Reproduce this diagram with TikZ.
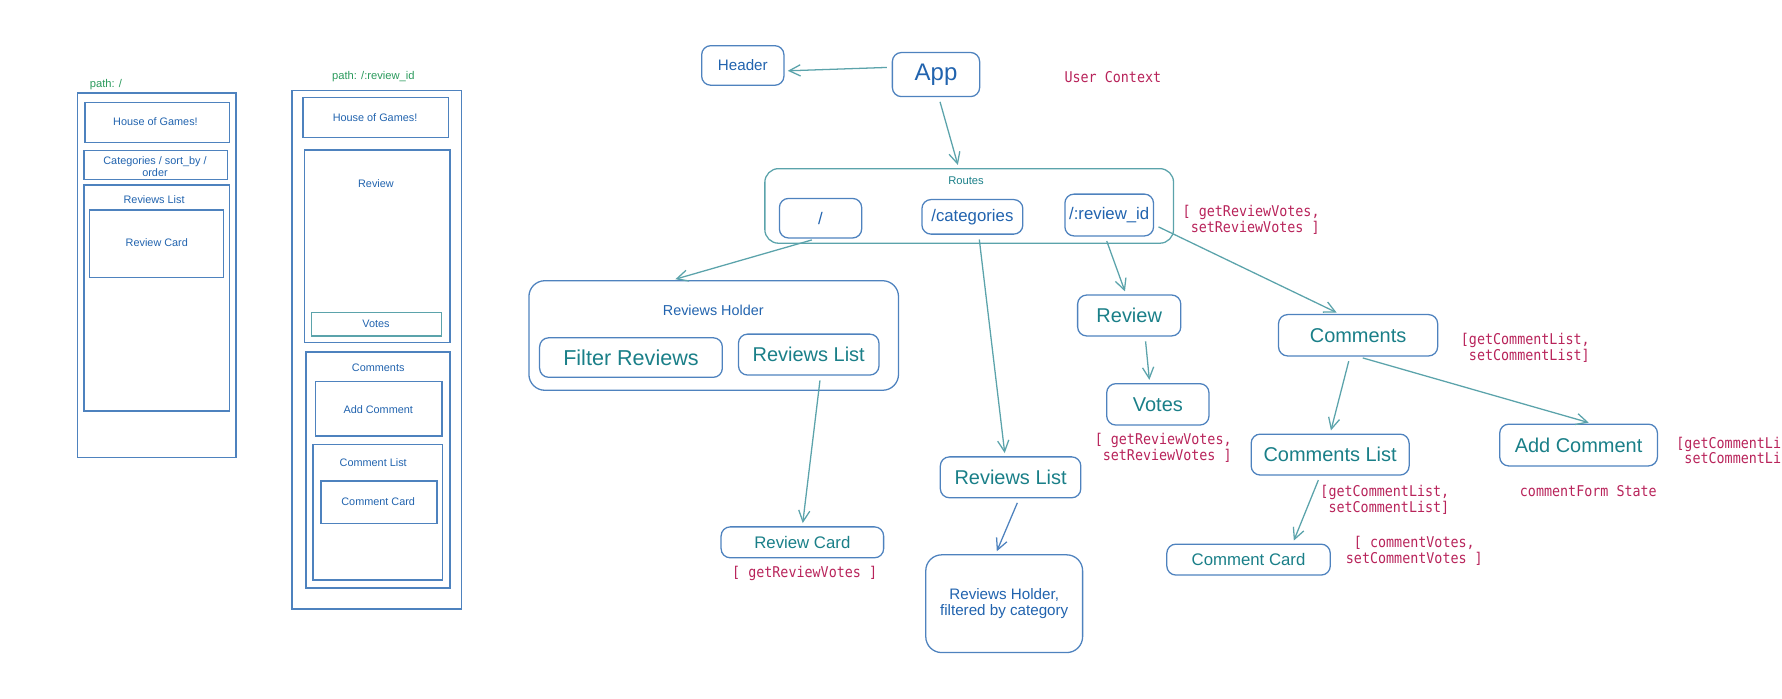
\documentclass[tikz,border=0pt]{standalone}
\usepackage{fontspec}
\setmainfont{Liberation Sans}
\newfontfamily\codefont[FakeStretch=0.9]{DejaVu Sans Mono}
\usetikzlibrary{arrows.meta}

\definecolor{boxblue}{HTML}{4E82BE}
\definecolor{txtblue}{HTML}{2163AE}
\definecolor{txtteal}{HTML}{1A7F88}
\definecolor{lineteal}{HTML}{5BA3AB}
\definecolor{codered}{HTML}{B8235A}
\definecolor{pathgreen}{HTML}{2A9A5C}

\begin{document}
\begin{tikzpicture}[
    box/.style={draw=boxblue, line width=0.8pt, rounded corners=0.2cm, inner sep=0pt},
    wire/.style={draw=boxblue, line width=0.9pt},
    arr/.style={draw=lineteal, line width=0.8pt, -{Straight Barb[length=7pt,width=7pt]}, shorten <=3pt, shorten >=2pt},
    big/.style={font=\fontsize{12.5}{14}\selectfont, text=txtteal},
    mid/.style={font=\fontsize{10.5}{12}\selectfont},
    small/.style={font=\fontsize{6.8}{7.8}\selectfont, text=txtblue},
    pathlbl/.style={anchor=west, inner sep=0pt, font=\fontsize{7}{8}\selectfont, text=pathgreen},
    code/.style={font=\codefont\fontsize{9.3}{9.8}\selectfont, text=codered, align=left, inner sep=0pt}
]
    \useasboundingbox (0,0) rectangle (39.2,-15.355);
    \clip (0,0) rectangle (39.2,-15.355);

    \node[pathlbl] (pathroot) at (1.97,-1.86) {path: /};
    \draw[wire] (1.70,-2.05) rectangle (5.19,-10.06);
    \draw[wire] (1.87,-2.25) rectangle (5.05,-3.14);
    \node[small] (hogroot) at (3.42,-2.68) {House of Games!};
    \draw[wire] (1.85,-3.31) rectangle (5.0,-3.95);
    \node[small, align=center] (sortroot) at (3.41,-3.66) {Categories / sort\_by /\\order};
    \draw[wire] (1.85,-4.07) rectangle (5.05,-9.04);
    \node[small] (listroot) at (3.39,-4.40) {Reviews List};
    \draw[wire] (1.97,-4.62) rectangle (4.92,-6.11);
    \node[small] (cardroot) at (3.45,-5.34) {Review Card};

    \node[pathlbl] (pathid) at (7.30,-1.69) {path: /:review\_id};
    \draw[wire] (6.42,-1.99) rectangle (10.15,-13.40);
    \draw[wire] (6.67,-2.15) rectangle (9.86,-3.03);
    \node[small] (hogid) at (8.25,-2.58) {House of Games!};
    \draw[wire] (6.70,-3.30) rectangle (9.90,-7.54);
    \node[small] (reviewid) at (8.27,-4.03) {Review};
    \draw[wire, draw=lineteal] (6.85,-6.88) rectangle (9.71,-7.39);
    \node[small] (votesid) at (8.27,-7.13) {Votes};
    \draw[wire] (6.73,-7.74) rectangle (9.90,-12.93);
    \node[small] (commentsid) at (8.32,-8.09) {Comments};
    \draw[wire] (6.94,-8.39) rectangle (9.72,-9.59);
    \node[small] (addid) at (8.32,-9.0) {Add Comment};
    \draw[wire] (6.89,-9.78) rectangle (9.74,-12.76);
    \node[small] (commlistid) at (8.21,-10.18) {Comment List};
    \draw[wire] (7.06,-10.58) rectangle (9.61,-11.52);
    \node[small] (commcardid) at (8.32,-11.04) {Comment Card};

    \node[box, minimum width=1.81cm, minimum height=0.87cm, text=txtblue, font=\fontsize{9.5}{11}\selectfont] (header) at (16.34,-1.44) {Header};
    \node[box, minimum width=1.92cm, minimum height=0.97cm, text=txtblue, font=\fontsize{15}{17}\selectfont] (app) at (20.59,-1.64) {App};
    \node[code] (usercontext) at (24.48,-1.69) {User Context};

    \node[box, draw=lineteal, rounded corners=0.3cm, minimum width=8.99cm, minimum height=1.64cm] (routes) at (21.32,-4.53) {};
    \node[font=\fontsize{7}{8}\selectfont, text=txtteal] (routestitle) at (21.25,-3.98) {Routes};
    \node[box, minimum width=1.81cm, minimum height=0.87cm, mid, text=txtblue] (root) at (18.05,-4.80) {/};
    \node[box, minimum width=2.22cm, minimum height=0.76cm, mid, text=txtblue] (categories) at (21.39,-4.77) {/categories};
    \node[box, minimum width=1.95cm, minimum height=0.92cm, mid, text=txtblue] (review_id) at (24.40,-4.73) {/:review\_id};
    \node[code, anchor=west] (idstate) at (26.01,-4.84) {[ getReviewVotes,\\~setReviewVotes ]};

    \node[box, rounded corners=0.35cm, minimum width=8.13cm, minimum height=2.41cm] (holder) at (15.70,-7.38) {};
    \node[text=txtblue, font=\fontsize{9}{10}\selectfont] (holdertitle) at (15.69,-6.835) {Reviews Holder};
    \node[box, minimum width=4.02cm, minimum height=0.87cm, big, font=\fontsize{13.5}{15}\selectfont] (filter) at (13.88,-7.865) {Filter Reviews};
    \node[box, minimum width=3.09cm, minimum height=0.90cm, big] (reviewslist) at (17.79,-7.80) {Reviews List};
    \node[box, minimum width=3.575cm, minimum height=0.68cm, mid, text=txtteal] (reviewcard) at (17.65,-11.93) {Review Card};
    \node[code] (cardstate) at (17.70,-12.625) {[ getReviewVotes ]};

    \node[box, minimum width=3.09cm, minimum height=0.90cm, big] (catlist) at (22.23,-10.50) {Reviews List};
    \node[box, rounded corners=0.35cm, minimum width=3.45cm, minimum height=2.15cm, text=txtblue, align=center, font=\fontsize{9.5}{10}\selectfont] (filtered) at (22.09,-13.28) {Reviews Holder,\\filtered by category};

    \node[box, minimum width=2.27cm, minimum height=0.90cm, big] (review) at (24.84,-6.94) {Review};
    \node[box, minimum width=2.25cm, minimum height=0.91cm, big] (votes) at (25.47,-8.895) {Votes};
    \node[code, anchor=west] (votesstate) at (24.075,-9.85) {[ getReviewVotes,\\~setReviewVotes ]};

    \node[box, minimum width=3.50cm, minimum height=0.91cm, big] (comments) at (29.875,-7.375) {Comments};
    \node[code, anchor=west] (commentsstate) at (32.13,-7.65) {[getCommentList,\\~setCommentList]};
    \node[box, minimum width=3.475cm, minimum height=0.90cm, big] (commentslist) at (29.26,-10.0) {Comments List};
    \node[code, anchor=west] (liststate) at (29.04,-11.0) {[getCommentList,\\~setCommentList]};
    \node[box, minimum width=3.47cm, minimum height=0.92cm, big] (addcomment) at (34.725,-9.79) {Add Comment};
    \node[code, anchor=west] (addstate) at (36.87,-9.925) {[getCommentList,\\~setCommentList]};
    \node[code] (formstate) at (34.94,-10.8) {commentForm State};
    \node[box, minimum width=3.595cm, minimum height=0.68cm, mid, text=txtteal] (commentcard) at (27.465,-12.31) {Comment Card};
    \node[code, anchor=west] (cardvotes) at (29.60,-12.12) {~[ commentVotes,\\setCommentVotes ]};

    \draw[arr] ([yshift=0.16cm]app.west) -- ([yshift=-0.12cm]header.east);
    \draw[arr] ([xshift=0.06cm]app.south) -- ([xshift=-0.23cm]routes.north);
    \draw[arr] ([xshift=-0.09cm]root.south) -- ([xshift=-0.91cm]holder.north);
    \draw[arr] ([xshift=0.26cm]reviewslist.south) -- (reviewcard.north);
    \draw[arr] ([xshift=0.14cm]categories.south) -- ([xshift=-0.12cm]catlist.north);
    \draw[arr, draw=boxblue] ([xshift=0.19cm]catlist.south) -- ([xshift=-0.19cm]filtered.north);
    \draw[arr] ([xshift=-0.09cm]review_id.south) -- ([xshift=-0.07cm]review.north);
    \draw[arr] ([xshift=0.35cm]review.south) -- ([xshift=-0.18cm]votes.north);
    \draw[arr] ([yshift=-0.215cm]review_id.east) -- ([xshift=-0.41cm]comments.north);
    \draw[arr] ([xshift=-0.18cm]comments.south) -- (commentslist.north);
    \draw[arr] (comments.south) -- ([xshift=0.29cm]addcomment.north);
    \draw[arr] ([xshift=-0.22cm]commentslist.south) -- ([xshift=0.97cm]commentcard.north);
\end{tikzpicture}
\end{document}
